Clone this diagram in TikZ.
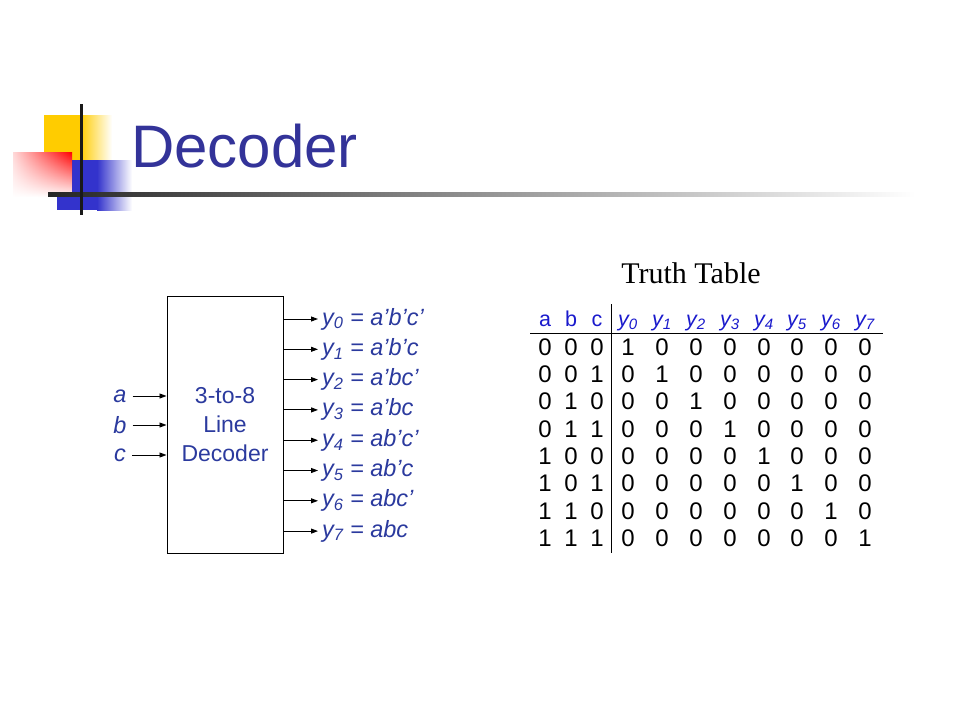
\documentclass[tikz,border=0pt]{standalone}
\usepackage{fontspec}
\setmainfont{Liberation Sans}
\newfontfamily\serifface{Liberation Serif}
\usetikzlibrary{arrows.meta,shadings,fadings}
\definecolor{titleblue}{HTML}{333399}
\definecolor{lblblue}{HTML}{2B3A9E}
\definecolor{hdrblue}{HTML}{1A1ACC}
\definecolor{sqyellow}{HTML}{FFCC00}
\definecolor{sqblue}{HTML}{3333CC}
\begin{document}
\begin{tikzpicture}[x=1pt,y=-1pt,
  arr/.style={-{Triangle[length=7pt,width=5pt]}, line width=0.9pt},
  lbl/.style={text=lblblue, font=\fontsize{23.5}{28}\selectfont\itshape, inner sep=0pt},
  digit/.style={font=\fontsize{24}{28}\selectfont, inner sep=0pt},
  hdr/.style={text=hdrblue, font=\fontsize{21.5}{25}\selectfont, inner sep=0pt, anchor=base}]
\useasboundingbox (0,0) rectangle (960,720);
% decoration
\fill[sqyellow] (44,115) rectangle (80,160);
\shade[left color=sqyellow, right color=white] (80,115) rectangle (112,160);
\fill[sqblue] (57,160) rectangle (97,210);
\shade[left color=sqblue, right color=white] (97,160) rectangle (132,210);
\fill[white] (13,152) rectangle (72,197);
\shade[left color=red!15, right color=red, path fading=south] (13,152) rectangle (72,197);
\shade[left color=black!85, middle color=black!40, right color=white] (48,192) rectangle (915,196.5);
\fill[black!90] (79.5,104) rectangle (82.5,215);
% title
\node[anchor=base west, text=titleblue, font=\fontsize{60}{60}\selectfont, inner sep=0pt] (title) at (131,167) {Decoder};
\node[anchor=base, font=\serifface\fontsize{30}{30}\selectfont, inner sep=0pt] (tt) at (691,283) {Truth Table};
% decoder box
\node[draw, line width=1pt, minimum width=116pt, minimum height=257pt, inner sep=0pt,
      align=center, text=lblblue, font=\fontsize{23}{29}\selectfont] (dec) at (225,424.7) {3-to-8\\Line\\Decoder};
% inputs
\foreach \n/\yy in {a/396,b/425,c/455}{
  \node[lbl] (in\n) at (120,\yy) {\n};
  \draw[arr] ([xshift=6pt]in\n.east) -- (in\n -| dec.west);
}
% outputs
\foreach \i/\expr in {0/a’b’c’,1/a’b’c,2/a’bc’,3/a’bc,4/ab’c’,5/ab’c,6/abc’,7/abc}{
  \pgfmathsetmacro\yy{319+30.3*\i}
  \coordinate (o\i) at (283.3,\yy);
  \node[lbl, anchor=west] (l\i) at (322,\yy) {y\textsubscript{\i} = \expr};
  \draw[arr] (o\i) -- ([xshift=-4pt]l\i.west);
}
% truth table header
\foreach \t [count=\j from 0] in {a,b,c}{
  \pgfmathsetmacro\cx{{545,571,597}[\j]}
  \node[hdr] (h\j) at (\cx,326) {\t};
}
\foreach \k in {0,...,7}{
  \pgfmathsetmacro\cx{{628,662,696,730,764,797,831,865}[\k]}
  \node[hdr, font=\fontsize{21.5}{25}\selectfont\itshape] (hy\k) at (\cx,326) {y\textsubscript{\k}};
}
% rules
\draw[line width=1pt] (530,333) -- (883,333);
\draw[line width=1pt] (611,304) -- (611,553);
% rows
\foreach \row [count=\i from 0] in {
  {0,0,0,1,0,0,0,0,0,0,0},
  {0,0,1,0,1,0,0,0,0,0,0},
  {0,1,0,0,0,1,0,0,0,0,0},
  {0,1,1,0,0,0,1,0,0,0,0},
  {1,0,0,0,0,0,0,1,0,0,0},
  {1,0,1,0,0,0,0,0,1,0,0},
  {1,1,0,0,0,0,0,0,0,1,0},
  {1,1,1,0,0,0,0,0,0,0,1}}{
  \foreach \d [count=\j from 0] in \row {
    \pgfmathsetmacro\cx{{545,571,597,628,662,696,730,764,797,831,865}[\j]}
    \pgfmathsetmacro\cy{347+27.3*\i}
    \node[digit] (t\i-\j) at (\cx,\cy) {\d};
  }
}
\end{tikzpicture}
\end{document}
